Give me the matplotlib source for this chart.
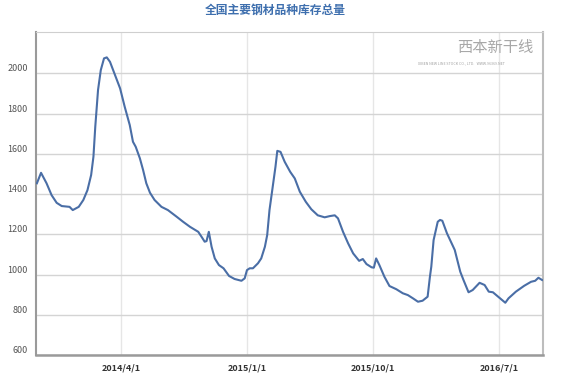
import matplotlib
matplotlib.use("Agg")
import matplotlib.pyplot as plt
import pandas as pd

plt.rcParams['font.family'] = ['Noto Sans CJK SC', 'DejaVu Sans']

title = "全国主要钢材品种库存总量"

dates = [
    "2013-09-30", "2013-10-09", "2013-10-21", "2013-11-01", "2013-11-12", "2013-11-23",
    "2013-12-10", "2013-12-17", "2013-12-30", "2014-01-09", "2014-01-18", "2014-01-26",
    "2014-01-31", "2014-02-04", "2014-02-10", "2014-02-16", "2014-02-23", "2014-03-01",
    "2014-03-08", "2014-03-19", "2014-03-30", "2014-04-09", "2014-04-20", "2014-04-27",
    "2014-05-03", "2014-05-12", "2014-05-19", "2014-05-26", "2014-06-03", "2014-06-13",
    "2014-06-28", "2014-07-12", "2014-07-31", "2014-08-14", "2014-08-29", "2014-09-16",
    "2014-09-23", "2014-09-30", "2014-10-04", "2014-10-09", "2014-10-15", "2014-10-22",
    "2014-10-31", "2014-11-10", "2014-11-22", "2014-12-04", "2014-12-19", "2014-12-26",
    "2014-12-31", "2015-01-06", "2015-01-13", "2015-01-24", "2015-01-31", "2015-02-08",
    "2015-02-13", "2015-02-18", "2015-02-24", "2015-03-03", "2015-03-07", "2015-03-14",
    "2015-03-23", "2015-04-04", "2015-04-14", "2015-04-25", "2015-05-08", "2015-05-20",
    "2015-06-03", "2015-06-18", "2015-06-29", "2015-07-10", "2015-07-17", "2015-07-28",
    "2015-08-08", "2015-08-19", "2015-09-01", "2015-09-09", "2015-09-17", "2015-09-28",
    "2015-10-03", "2015-10-08", "2015-10-15", "2015-10-26", "2015-11-06", "2015-11-21",
    "2015-12-05", "2015-12-16", "2015-12-27", "2016-01-07", "2016-01-17", "2016-01-28",
    "2016-02-02", "2016-02-05", "2016-02-10", "2016-02-19", "2016-02-24", "2016-02-29",
    "2016-03-10", "2016-03-27", "2016-04-08", "2016-04-15", "2016-04-26", "2016-05-05",
    "2016-05-20", "2016-05-31", "2016-06-09", "2016-06-18", "2016-07-02", "2016-07-15",
    "2016-07-22", "2016-08-07", "2016-08-25", "2016-09-09", "2016-09-18", "2016-09-25",
    "2016-10-03",
]
inventory = [
    1454, 1506, 1454, 1395, 1357, 1341,
    1337, 1321, 1337, 1371, 1420, 1495,
    1586, 1735, 1917, 2016, 2074, 2079,
    2057, 1991, 1925, 1834, 1743, 1660,
    1635, 1578, 1520, 1454, 1407, 1371,
    1337, 1321, 1288, 1263, 1238, 1213,
    1189, 1164, 1167, 1213, 1139, 1081,
    1048, 1032, 994, 979, 970, 982,
    1023, 1032, 1032, 1057, 1081, 1139,
    1197, 1321, 1420, 1536, 1615, 1610,
    1561, 1511, 1478, 1412, 1362, 1325,
    1295, 1285, 1291, 1295, 1280, 1213,
    1156, 1106, 1069, 1078, 1053, 1037,
    1035, 1081, 1048, 990, 944, 928,
    908, 899, 883, 866, 871, 891,
    990, 1040, 1172, 1263, 1272, 1268,
    1206, 1123, 1015, 974, 913, 924,
    960, 949, 916, 913, 886, 861,
    883, 916, 945, 965, 970, 985,
    974,
]

x_ticks = ["2014-04-01", "2015-01-01", "2015-10-01", "2016-07-01"]
x_tick_labels = ["2014/4/1", "2015/1/1", "2015/10/1", "2016/7/1"]
y_ticks = [600, 800, 1000, 1200, 1400, 1600, 1800, 2000]

x = pd.to_datetime(dates)

fig = plt.figure(figsize=(5.72, 3.85), dpi=100)
ax = fig.add_axes([0.0629, 0.0771, 0.8864, 0.8398])

ax.plot(x, inventory, color="#4a6ea6", lw=1.5, solid_joinstyle="round", zorder=3)

ax.set_xlim(pd.Timestamp("2013-09-28"), pd.Timestamp("2016-10-05"))
ax.set_ylim(600, 2205)
ax.set_yticks(y_ticks)
ax.set_yticklabels([str(v) for v in y_ticks])
ax.set_xticks(pd.to_datetime(x_ticks))
ax.set_xticklabels(x_tick_labels)

ax.grid(axis="y", color="#d4d4d4", lw=1.0)
ax.grid(axis="x", color="#e6e6e6", lw=1.0)
ax.set_axisbelow(True)

ax.tick_params(axis="both", length=0)
ax.tick_params(axis="y", labelsize=6.5, labelcolor="#555555", pad=6)
ax.tick_params(axis="x", labelsize=6.5, labelcolor="#333333", pad=6)
for lbl in ax.get_xticklabels():
    lbl.set_fontweight("bold")
for lbl in ax.get_yticklabels():
    lbl.set_verticalalignment("bottom")

ax.spines["left"].set_color("#9a9a9a")
ax.spines["left"].set_linewidth(1.5)
ax.spines["bottom"].set_color("#9a9a9a")
ax.spines["bottom"].set_linewidth(1.8)
ax.spines["top"].set_color("#cfcfcf")
ax.spines["right"].set_color("#bdbdbd")
ax.spines["right"].set_linewidth(1.5)

fig.text(0.482, 0.973, title, ha="center", va="center", fontsize=8.5,
         fontweight="bold", color="#3e6fae")

# watermark
ax.text(0.905, 0.952, "西本新干线", transform=ax.transAxes, ha="center", va="center",
        fontsize=11, color="#a8a8a8", style="italic", zorder=1)
ax.text(0.84, 0.902, "XIBEN NEW LINE STOCK CO., LTD.   WWW.96369.NET",
        transform=ax.transAxes, ha="center", va="center", fontsize=2.6,
        color="#a0a0a0", zorder=1)

fig.savefig("out.png", dpi=100)
